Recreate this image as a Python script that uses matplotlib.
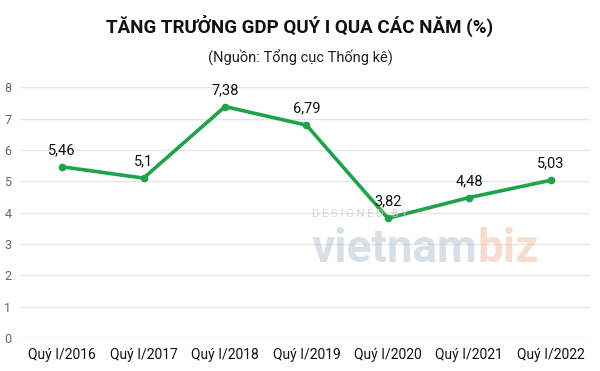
import matplotlib.pyplot as plt
from matplotlib import font_manager

quarters = ["Quý I/2016", "Quý I/2017", "Quý I/2018", "Quý I/2019",
            "Quý I/2020", "Quý I/2021", "Quý I/2022"]
growth = [5.46, 5.1, 7.38, 6.79, 3.82, 4.48, 5.03]
labels = ["5,46", "5,1", "7,38", "6,79", "3,82", "4,48", "5,03"]

names = {f.name for f in font_manager.fontManager.ttflist}
fam = ["Liberation Sans Narrow", "DejaVu Sans"] if "Liberation Sans Narrow" in names else ["Roboto", "DejaVu Sans"]
plt.rcParams["font.family"] = fam

fig = plt.figure(figsize=(6, 3.71), dpi=100)
ax = fig.add_axes([0.033, 0.089, 0.95, 0.676])

x = list(range(len(quarters)))
ax.plot(x, growth, color="#1ea34a", lw=2.6, marker="o", ms=4.5, clip_on=False, zorder=3)
for xi, yi, lab in zip(x, growth, labels):
    ax.annotate(lab, (xi, yi), xytext=(0, 7), textcoords="offset points",
                ha="center", va="bottom", fontsize=10.5, color="#111111", zorder=4)

ax.set_ylim(0, 8)
ax.set_xlim(-0.52, 6.48)
ax.set_yticks(range(0, 9))
ax.set_xticks(x)
ax.set_xticklabels(quarters, fontsize=10, color="#111111")
ax.tick_params(axis="y", labelsize=9, labelcolor="#666666", length=0, pad=6)
ax.tick_params(axis="x", length=0, pad=7)
ax.grid(axis="y", color="#e6e6e6", lw=1)
ax.set_axisbelow(True)
for s in ax.spines.values():
    s.set_visible(False)

# watermark
fig.text(0.52, 0.415, "D E S I G N E D   B Y", fontsize=8, color="#c9ced3", alpha=0.8, ha="left")
t1 = fig.text(0.52, 0.33, "vietnam", fontsize=33, color="#b9c6d0", alpha=0.55,
              weight="bold", ha="left", va="center")
fig.canvas.draw()
bb = t1.get_window_extent().transformed(fig.transFigure.inverted())
fig.text(bb.x1, 0.33, "biz", fontsize=33, color="#f2c1a8", alpha=0.55,
         weight="bold", ha="left", va="center")

fig.text(0.5, 0.93, "TĂNG TRƯỞNG GDP QUÝ I QUA CÁC NĂM (%)", ha="center", va="center",
         fontsize=13.5, weight="bold", color="#111111")
fig.text(0.5, 0.845, "(Nguồn: Tổng cục Thống kê)", ha="center", va="center",
         fontsize=10.5, color="#222222")

fig.savefig("out.png", dpi=100)
